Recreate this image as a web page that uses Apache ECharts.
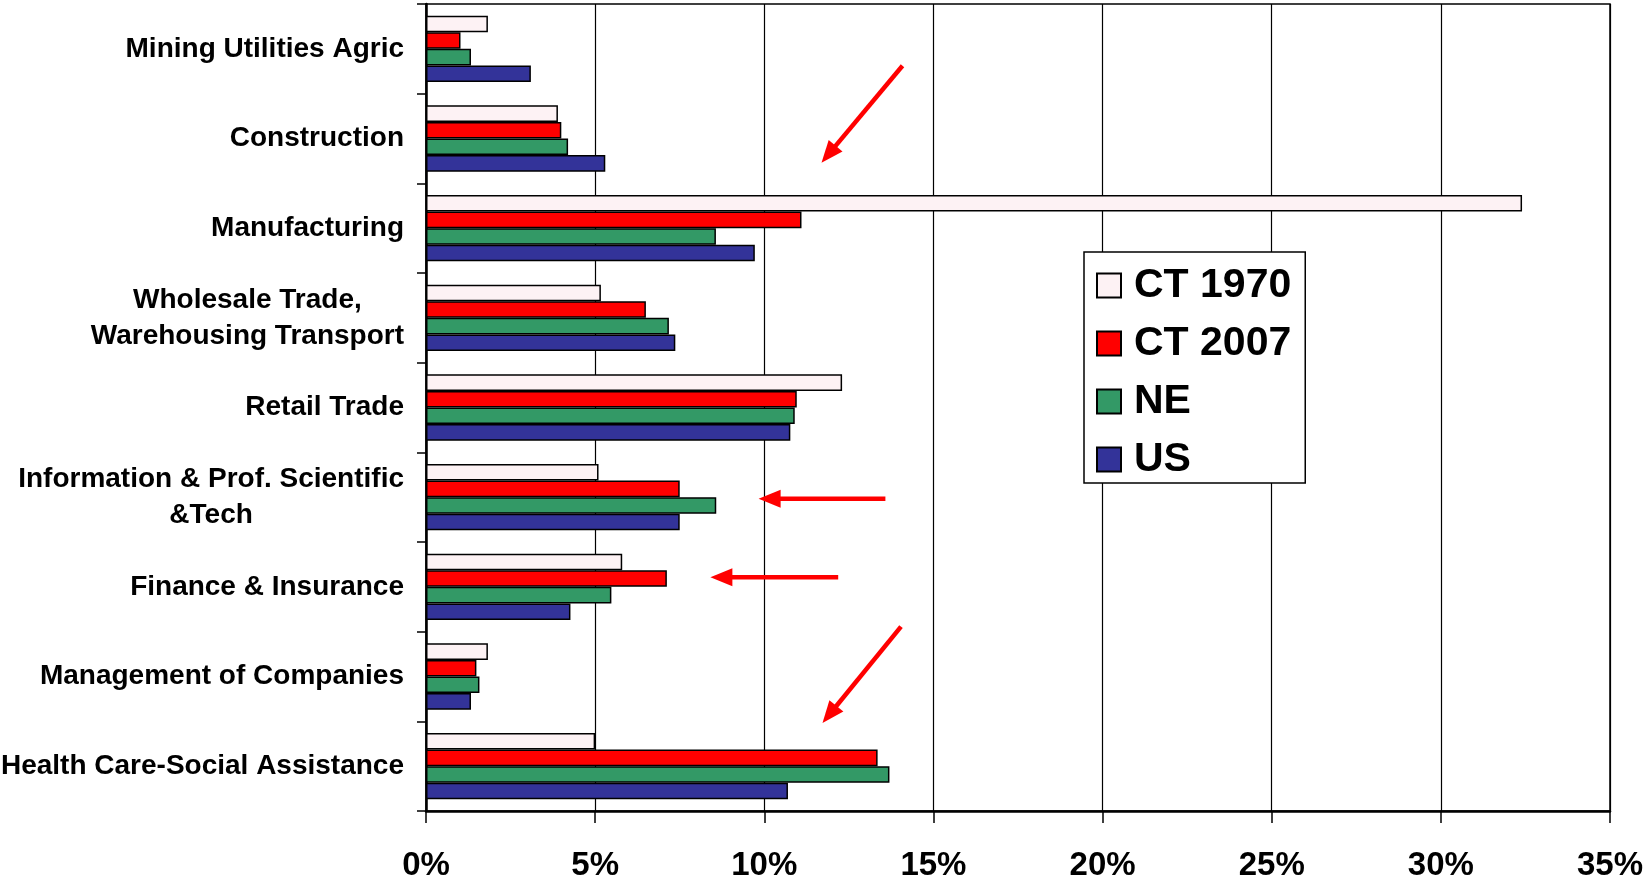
<!DOCTYPE html>
<html>
<head>
<meta charset="utf-8">
<script src="https://cdn.jsdelivr.net/npm/echarts@6/dist/echarts.min.js"></script>
<style>
html,body{margin:0;padding:0;background:#fff;}
#chart{width:1643px;height:881px;}
</style>
</head>
<body>
<div id="chart"></div>
<script>
var categories = [
  "Mining Utilities Agric",
  "Construction",
  "Manufacturing",
  "Wholesale Trade,\nWarehousing Transport",
  "Retail Trade",
  "Information & Prof. Scientific\n&Tech",
  "Finance & Insurance",
  "Management of Companies",
  "Health Care-Social Assistance"
];
var seriesNames = ["CT 1970", "CT 2007", "NE", "US"];
var ct1970 = [1.83, 3.9, 32.4, 5.17, 12.3, 5.1, 5.8, 1.83, 5.0];
var ct2007 = [1.02, 4.0, 11.1, 6.5, 10.96, 7.5, 7.12, 1.49, 13.35];
var ne     = [1.33, 4.2, 8.57, 7.18, 10.9, 8.58, 5.48, 1.58, 13.7];
var us     = [3.10, 5.3, 9.72, 7.37, 10.77, 7.5, 4.27, 1.33, 10.7];
var xTicks = [0, 5, 10, 15, 20, 25, 30, 35];

var FONT = '"Liberation Sans", Arial, sans-serif';
var LABEL_SIZE = 28;
var colors = ['#FDF2F4', '#FF0000', '#339966', '#333399'];
var values = [ct1970, ct2007, ne, us];

var chart = echarts.init(document.getElementById('chart'));

function arrow(tail, tip) {
  var dx = tip[0] - tail[0], dy = tip[1] - tail[1];
  var len = Math.sqrt(dx * dx + dy * dy);
  var ux = dx / len, uy = dy / len;
  var hl = 22, hw = 9;
  var bx = tip[0] - ux * hl, by = tip[1] - uy * hl;
  return [
    { type: 'line', shape: { x1: tail[0], y1: tail[1], x2: bx + ux * 2, y2: by + uy * 2 },
      style: { stroke: '#FF0000', lineWidth: 4.5 }, z: 100 },
    { type: 'polygon', shape: { points: [[tip[0], tip[1]], [bx - uy * hw, by + ux * hw], [bx + uy * hw, by - ux * hw]] },
      style: { fill: '#FF0000' }, z: 100 }
  ];
}
var arrows = [].concat(
  arrow([902.5, 65.7], [821.5, 162.7]),
  arrow([885.4, 498.7], [758.6, 498.7]),
  arrow([838.2, 577.3], [710.4, 577.3]),
  arrow([901.0, 626.6], [822.5, 723.0])
);

var series = seriesNames.map(function (n, i) {
  return {
    name: n,
    type: 'bar',
    data: values[i],
    barGap: '0%',
    barCategoryGap: '26%',
    itemStyle: { color: colors[i], borderColor: '#000', borderWidth: 1.5 },
    emphasis: { disabled: true },
    animation: false
  };
});

chart.setOption({
  animation: false,
  backgroundColor: '#fff',
  grid: { left: 426, right: 33, top: 4, bottom: 70, show: true, borderColor: '#000', borderWidth: 1.5,
          backgroundColor: '#fff', containLabel: false, outerBoundsMode: 'none' },
  legend: {
    orient: 'vertical',
    left: 1084, top: 252,
    data: seriesNames,
    itemWidth: 24, itemHeight: 24, itemGap: 17,
    padding: [13, 14, 3, 12],
    borderColor: '#000', borderWidth: 1.5, backgroundColor: '#fff',
    icon: 'rect',
    textStyle: { fontSize: 41, fontWeight: 'bold', color: '#000', fontFamily: FONT, lineHeight: 40, padding: [0, 0, 0, 8] },
    selectedMode: false
  },
  xAxis: {
    type: 'value',
    min: 0, max: 35, interval: 5,
    axisLine: { show: true, lineStyle: { color: '#000', width: 2.5 } },
    axisTick: { show: true, length: 12, lineStyle: { color: '#000', width: 1.5 } },
    splitLine: { show: true, lineStyle: { color: '#000', width: 1.2 } },
    axisLabel: {
      margin: 38,
      fontSize: 33, fontWeight: 'bold', color: '#000', fontFamily: FONT,
      hideOverlap: false,
      formatter: function (v) { return xTicks.indexOf(v) >= 0 ? v + '%' : ''; }
    }
  },
  yAxis: {
    type: 'category',
    inverse: true,
    data: categories,
    axisLine: { show: true, lineStyle: { color: '#000', width: 2.5 } },
    axisTick: { show: true, length: 9, lineStyle: { color: '#000', width: 1.5 } },
    axisLabel: {
      margin: 22,
      fontSize: LABEL_SIZE, fontWeight: 'bold', color: '#000', fontFamily: FONT, lineHeight: 36,
      formatter: function (v) {
        var ls = v.split('\n');
        if (ls.length === 1) return v;
        return ls.map(function (l) { return '{c|' + l + '}'; }).join('\n');
      },
      rich: {
        c: { align: 'center', fontSize: LABEL_SIZE, fontWeight: 'bold', color: '#000', fontFamily: FONT, lineHeight: 36 }
      }
    }
  },
  series: series,
  graphic: arrows
});
</script>
</body>
</html>
